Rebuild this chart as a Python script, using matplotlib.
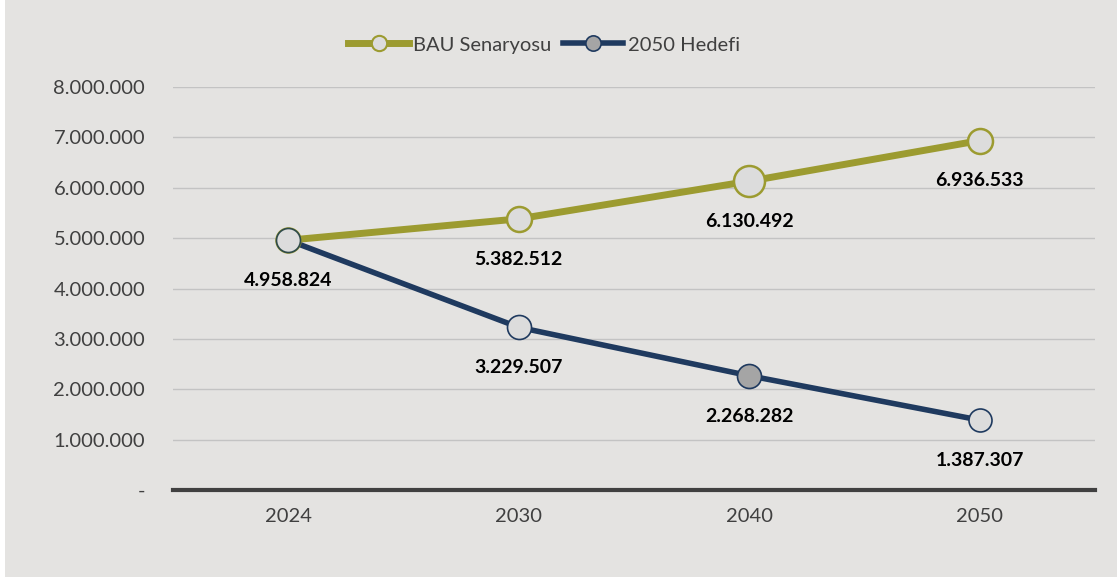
import matplotlib.pyplot as plt
from matplotlib.lines import Line2D
from matplotlib.patches import Rectangle

plt.rcParams['font.family'] = ['Lato', 'DejaVu Sans']

years = ["2024", "2030", "2040", "2050"]
bau = [4958824, 5382512, 6130492, 6936533]
target = [4958824, 3229507, 2268282, 1387307]
yticks = [0, 1000000, 2000000, 3000000, 4000000, 5000000, 6000000, 7000000, 8000000]


def fmt(v):
    return "-" if v == 0 else f"{v:,.0f}".replace(",", ".")


OLIVE = "#9c9b30"
NAVY = "#1f3a5f"
LIGHT = "#dcdcdc"
TEXT = "#404040"

fig = plt.figure(figsize=(11.17, 5.81), dpi=100)
fig.patch.set_facecolor("white")
fig.add_artist(Rectangle((5 / 1117, 4 / 581), 1, 1, transform=fig.transFigure,
                         facecolor="#e4e3e1", edgecolor="none", zorder=-10))
ax = fig.add_axes([173 / 1117, 1 - 490 / 581, (1095 - 173) / 1117, (490 - 87) / 581])
ax.set_facecolor("none")

x = range(len(years))
ax.plot(x, bau, color=OLIVE, lw=5, zorder=3, solid_capstyle="butt")
ax.plot(x, target, color=NAVY, lw=4, zorder=3, solid_capstyle="butt")

bau_sizes = [24, 25, 31, 25]
tgt_sizes = [24, 24, 24, 23]
tgt_faces = [LIGHT, LIGHT, "#a5a5a5", LIGHT]
for i in x:
    ax.plot(i, bau[i], "o", ms=bau_sizes[i] * 0.72, mfc=LIGHT, mec=OLIVE, mew=1.8, zorder=4)
for i in x:
    ax.plot(i, target[i], "o", ms=tgt_sizes[i] * 0.72, mfc=tgt_faces[i],
            mec="#2f4b4a" if i == 0 else NAVY, mew=1.2, zorder=5)

for i in x:
    ax.annotate(fmt(bau[i]), (i, bau[i]), xytext=(0, -29), textcoords="offset points",
                ha="center", va="center", fontsize=14, fontweight="bold", color="black")
    if i > 0:
        ax.annotate(fmt(target[i]), (i, target[i]), xytext=(0, -29), textcoords="offset points",
                    ha="center", va="center", fontsize=14, fontweight="bold", color="black")

ax.set_xlim(-0.5, 3.5)
ax.set_ylim(0, 8000000)
ax.set_xticks(list(x))
ax.set_xticklabels(years)
ax.set_yticks(yticks)
ax.set_yticklabels([fmt(v) for v in yticks])
ax.tick_params(axis="both", length=0, labelsize=14.5, labelcolor=TEXT)
ax.tick_params(axis="x", pad=13)
ax.tick_params(axis="y", pad=20)
ax.grid(axis="y", color="#c3c3c3", lw=1, zorder=0)
ax.set_axisbelow(True)
for s in ["top", "right", "left"]:
    ax.spines[s].set_visible(False)
ax.spines["bottom"].set_color("#404040")
ax.spines["bottom"].set_linewidth(3)
ax.spines["bottom"].set_zorder(2)

handles = [
    Line2D([], [], color=OLIVE, lw=5, marker="o", ms=11, mfc=LIGHT, mec=OLIVE, mew=1.5),
    Line2D([], [], color=NAVY, lw=4, marker="o", ms=11, mfc="#a5a5a5", mec=NAVY, mew=1.2),
]
fig.legend(handles, ["BAU Senaryosu", "2050 Hedefi"], loc="center", bbox_to_anchor=(0.487, 1 - 45 / 581),
           ncol=2, frameon=False, fontsize=14.5, labelcolor=TEXT, handlelength=3.0,
           handletextpad=0.2, columnspacing=0.6)

fig.savefig("out.png", dpi=100)
